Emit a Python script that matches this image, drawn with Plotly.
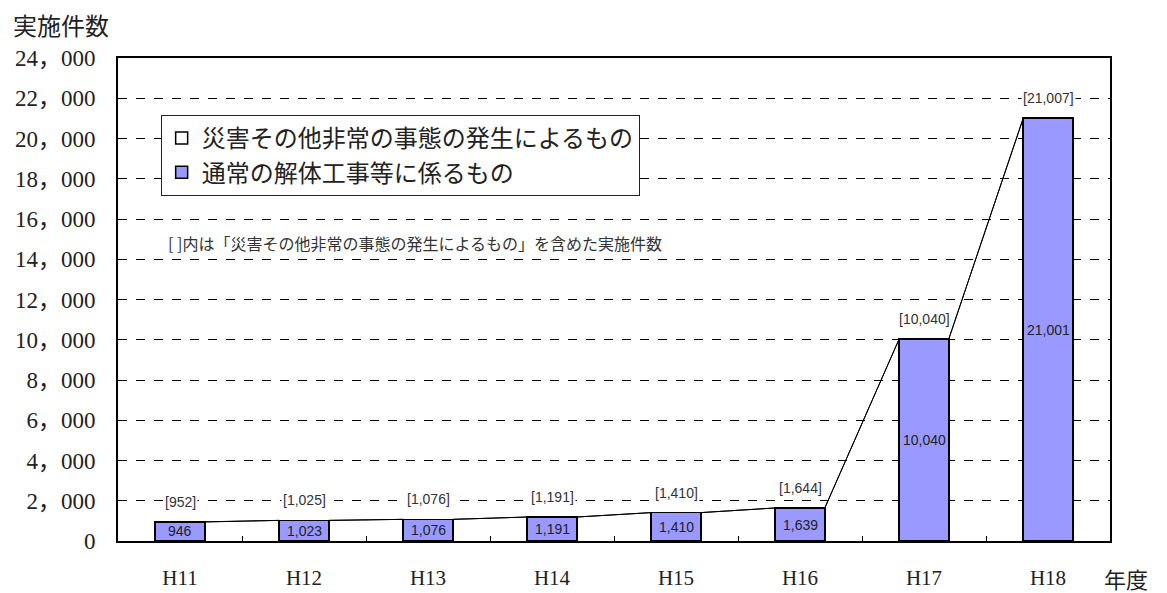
import plotly.graph_objects as go

years = ["H11", "H12", "H13", "H14", "H15", "H16", "H17", "H18"]
regular = [946, 1023, 1076, 1191, 1410, 1639, 10040, 21001]
totals = [952, 1025, 1076, 1191, 1410, 1644, 10040, 21007]
disaster = [t - r for t, r in zip(totals, regular)]

name_disaster = "災害その他非常の事態の発生によるもの"
name_regular = "通常の解体工事等に係るもの"
note = "[ ]内は「災害その他非常の事態の発生によるもの」を含めた実施件数"

yticks = list(range(0, 24001, 2000))
x = list(range(len(years)))
bw = 0.4
serif = "Liberation Serif, DejaVu Serif, Noto Sans CJK JP, serif"
sans = "Liberation Sans, Arial, Noto Sans CJK JP, sans-serif"
cjk = "Noto Sans CJK JP, sans-serif"

fig = go.Figure()
fig.add_bar(x=x, y=regular, name=name_regular, width=bw,
            marker=dict(color="#9999FF", line=dict(color="black", width=1.5)),
            textposition="none")
fig.add_bar(x=x, y=disaster, name=name_disaster, width=bw,
            marker=dict(color="white", line=dict(color="black", width=1.5)),
            hoverinfo="skip")

# series lines connecting bar tops
for series in (totals, regular):
    for i in range(len(x) - 1):
        fig.add_trace(go.Scatter(
            x=[x[i] + bw / 2, x[i + 1] - bw / 2],
            y=[series[i], series[i + 1]],
            mode="lines", line=dict(color="black", width=1),
            showlegend=False, hoverinfo="skip"))

# value labels inside bars
for xi, v in zip(x, regular):
    fig.add_annotation(x=xi, y=v / 2, text=f"{v:,}", showarrow=False,
                       yanchor="middle",
                       font=dict(family=sans, size=14, color="#222"))

# bracketed totals above bars
for xi, t in zip(x, totals):
    fig.add_annotation(x=xi, y=t, text=f"[{t:,}]", showarrow=False,
                       yanchor="bottom", yshift=10, bgcolor="white",
                       borderpad=1,
                       font=dict(family=sans, size=14, color="#333"))

fig.add_annotation(x=0.048, y=0.617, xref="paper", yref="paper", text=note,
                   showarrow=False, xanchor="left", yanchor="middle",
                   font=dict(family=cjk, size=16, color="#333"))
fig.add_annotation(x=-0.108, y=1.03, xref="paper", yref="paper", text="実施件数",
                   showarrow=False, xanchor="left", yanchor="bottom",
                   font=dict(family=cjk, size=24, color="#222"))
fig.add_annotation(x=0.992, y=-0.077, xref="paper", yref="paper", text="年度",
                   showarrow=False, xanchor="left", yanchor="middle",
                   font=dict(family=cjk, size=22, color="#222"))

# page body has an 8px default margin, so the figure is sized to compensate
fig.update_layout(
    barmode="stack",
    width=1159, height=585,
    margin=dict(l=110, r=57, t=50, b=52),
    plot_bgcolor="white", paper_bgcolor="white",
    legend=dict(x=0.043, y=0.882, xanchor="left", yanchor="top",
                traceorder="reversed", bordercolor="#222", borderwidth=1,
                bgcolor="white", font=dict(family=cjk, size=24, color="#222"),
                itemwidth=30, tracegroupgap=4),
    xaxis=dict(range=[-0.5, len(years) - 0.5], tickvals=x, ticktext=years,
               showgrid=False, showline=True, linecolor="black", linewidth=2,
               mirror=True, ticks="", ticklabelstandoff=17, automargin=False,
               tickfont=dict(family=serif, size=21, color="#222"),
               minor=dict(tickvals=[i + 0.5 for i in x[:-1]], ticks="inside",
                          ticklen=5, tickcolor="black", showgrid=False),
               zeroline=False),
    yaxis=dict(range=[0, 24000], tickvals=yticks,
               ticktext=[f"{v:,}".replace(",", "，") for v in yticks],
               showgrid=True, gridcolor="black", griddash="dash", gridwidth=1,
               showline=True, linecolor="black", linewidth=2, mirror=True,
               ticks="inside", ticklen=4, tickcolor="black",
               ticklabelstandoff=16, automargin=False,
               tickfont=dict(family=serif, size=23, color="#222"),
               zeroline=False),
)

fig.write_html("out.html")
